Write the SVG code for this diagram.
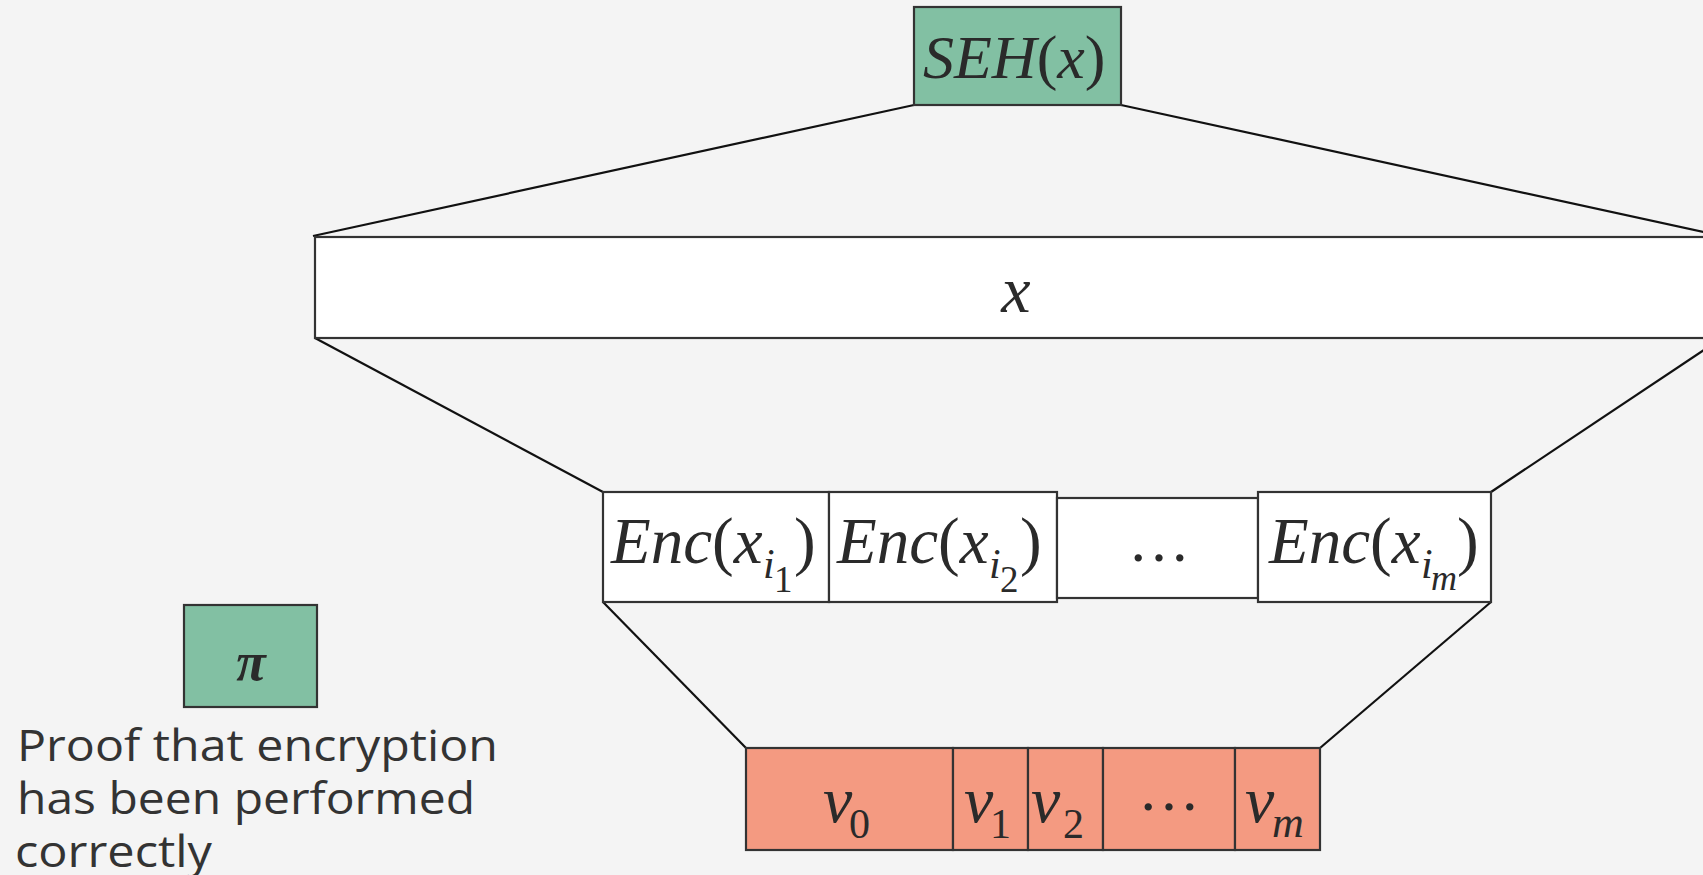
<svg xmlns="http://www.w3.org/2000/svg" width="1703" height="875" viewBox="0 0 1703 875">
<style>
.box{stroke:#333;stroke-width:2.2}
.w{fill:#fff}
.g{fill:#82c0a3}
.o{fill:#f49a81}
.m{font-family:"Liberation Serif",serif;font-style:italic;fill:#2a2a2a}
.r{font-family:"Liberation Serif",serif;font-style:normal;fill:#2a2a2a}
.ln{stroke:#111;stroke-width:2.2;fill:none}
.cap{font-family:"Open Sans",sans-serif;font-size:43px;fill:#333}
</style>
<rect width="1703" height="875" fill="#f4f4f4"/>
<g id="connectors">
<line class="ln" x1="914" y1="105" x2="313" y2="236"/>
<line class="ln" x1="1121" y1="105" x2="1722" y2="236"/>
<line class="ln" x1="315" y1="338" x2="603" y2="492"/>
<line class="ln" x1="1722" y1="338" x2="1491" y2="492"/>
<line class="ln" x1="603" y1="602" x2="746" y2="748"/>
<line class="ln" x1="1491" y1="602" x2="1320" y2="748"/>
</g>
<g id="seh">
<rect class="box g" x="914" y="7" width="207" height="98"/>
<text class="m" x="923" y="78" font-size="62">SEH<tspan class="r">(</tspan>x<tspan class="r">)</tspan></text>
</g>
<g id="x">
<rect class="box w" x="315" y="237" width="1410" height="101"/>
<text class="m" x="1016" y="312" font-size="66" text-anchor="middle">x</text>
</g>
<g id="enc1">
<rect class="box w" x="603" y="492" width="226" height="110"/>
<text class="m" x="611" y="563" font-size="65">Enc<tspan class="r">(</tspan>x</text>
<text class="m" x="763" y="578" font-size="42">i</text>
<text class="r" x="774" y="592" font-size="37">1</text>
<text class="r" x="794" y="563" font-size="65">)</text>
</g>
<g id="enc2">
<rect class="box w" x="829" y="492" width="228" height="110"/>
<text class="m" x="837" y="563" font-size="65">Enc<tspan class="r">(</tspan>x</text>
<text class="m" x="989" y="578" font-size="42">i</text>
<text class="r" x="1000" y="592" font-size="37">2</text>
<text class="r" x="1020" y="563" font-size="65">)</text>
</g>
<g id="encdots">
<rect class="box w" x="1057" y="498" width="201" height="100"/>
<text class="r" x="1159" y="561" font-size="62" text-anchor="middle">…</text>
</g>
<g id="encm">
<rect class="box w" x="1258" y="492" width="233" height="110"/>
<text class="m" x="1269" y="563" font-size="65">Enc<tspan class="r">(</tspan>x</text>
<text class="m" x="1421" y="578" font-size="42">i</text>
<text class="m" x="1431" y="590" font-size="36">m</text>
<text class="r" x="1457" y="563" font-size="65">)</text>
</g>
<g id="v0">
<rect class="box o" x="746" y="748" width="207" height="102"/>
<text class="m" x="823" y="822" font-size="66">v</text>
<text class="r" x="849" y="838" font-size="42">0</text>
</g>
<g id="v1">
<rect class="box o" x="953" y="748" width="75" height="102"/>
<text class="m" x="964" y="822" font-size="66">v</text>
<text class="r" x="990" y="838" font-size="42">1</text>
</g>
<g id="v2">
<rect class="box o" x="1028" y="748" width="75" height="102"/>
<text class="m" x="1031" y="822" font-size="66">v</text>
<text class="r" x="1063" y="838" font-size="42">2</text>
</g>
<g id="vdots">
<rect class="box o" x="1103" y="748" width="132" height="102"/>
<text class="r" x="1169" y="810" font-size="62" text-anchor="middle">…</text>
</g>
<g id="vm">
<rect class="box o" x="1235" y="748" width="85" height="102"/>
<text class="m" x="1245" y="822" font-size="66">v</text>
<text class="m" x="1272" y="837" font-size="44">m</text>
</g>
<g id="pi">
<rect class="box g" x="184" y="605" width="133" height="102"/>
<text class="m" x="251" y="680" font-size="54" font-weight="bold" text-anchor="middle">π</text>
</g>
<g id="caption">
<text class="cap" x="17" y="761" textLength="481" lengthAdjust="spacingAndGlyphs">Proof that encryption</text>
<text class="cap" x="17" y="814" textLength="458" lengthAdjust="spacingAndGlyphs">has been performed</text>
<text class="cap" x="15" y="867" textLength="197" lengthAdjust="spacingAndGlyphs">correctly</text>
</g>
</svg>
